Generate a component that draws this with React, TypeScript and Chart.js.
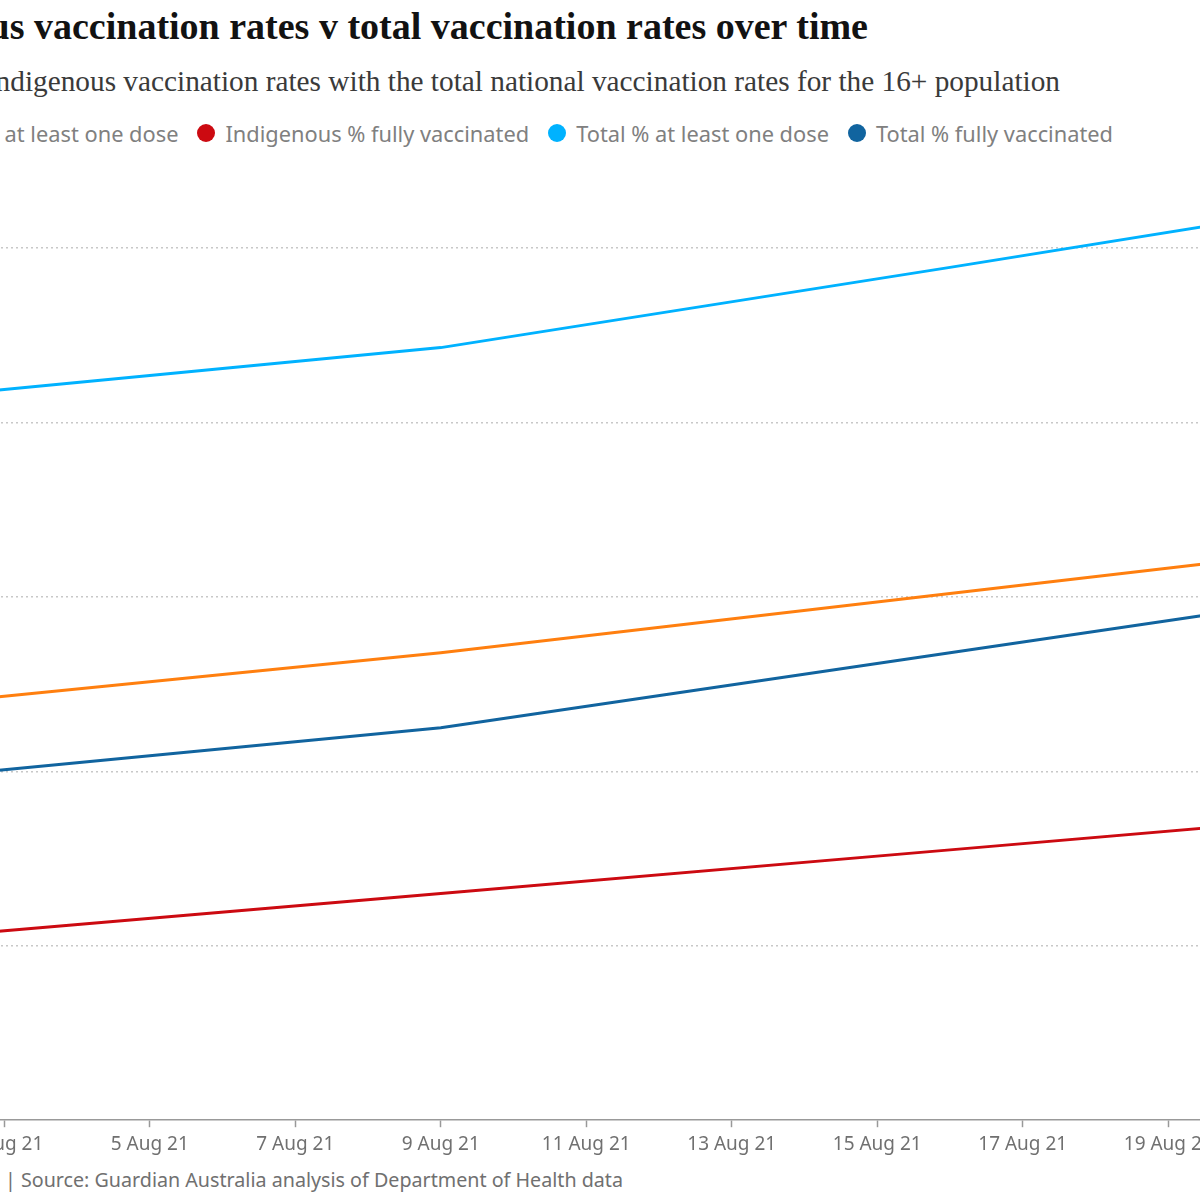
import React, { useEffect, useRef } from "react";
import Chart from "chart.js/auto";

// weekly readings, day of August 2021
const reportDays = [2, 9, 16, 23];
const indigenousFirstDose = [23.9, 26.8, 30.2, 33.6];
const indigenousFully = [10.5, 13.0, 15.5, 18.0];
const totalFirstDose = [41.5, 44.3, 48.9, 53.6];
const totalFully = [19.7, 22.5, 26.8, 31.1];

const seriesNames = [
  "Indigenous % at least one dose",
  "Indigenous % fully vaccinated",
  "Total % at least one dose",
  "Total % fully vaccinated"
];
const seriesColours = ["#ff7f0f", "#cc0a11", "#00b2ff", "#11649f"];

const xTickDays = [1, 3, 5, 7, 9, 11, 13, 15, 17, 19, 21, 23];
const yTickValues = [0, 10, 20, 30, 40, 50];

const title = "Indigenous vaccination rates v total vaccination rates over time";
const subtitle =
  "Comparing Indigenous vaccination rates with the total national vaccination rates for the 16+ population";
const footer = "Guardian graphic | Source: Guardian Australia analysis of Department of Health data";

const sans = "'Noto Sans', sans-serif";
const serif = "'Liberation Serif', serif";

const toPoints = (values: number[]) => values.map((v, i) => ({ x: reportDays[i], y: v }));

const App: React.FC = () => {
  const chartRef = useRef<HTMLCanvasElement>(null);
  const chartInstance = useRef<Chart>();

  useEffect(() => {
    if (!chartRef.current) return;
    const ctx = chartRef.current.getContext("2d");
    if (!ctx) return;
    if (chartInstance.current) chartInstance.current.destroy();

    const allSeries = [indigenousFirstDose, indigenousFully, totalFirstDose, totalFully];

    chartInstance.current = new Chart(ctx, {
      type: "line",
      data: {
        datasets: allSeries.map((values, i) => ({
          label: seriesNames[i],
          data: toPoints(values),
          borderColor: seriesColours[i],
          backgroundColor: seriesColours[i],
          borderWidth: 3,
          pointRadius: 0,
          tension: 0,
          fill: false
        }))
      },
      options: {
        animation: false,
        responsive: true,
        maintainAspectRatio: false,
        layout: { padding: 0 },
        plugins: {
          legend: { display: false },
          tooltip: { enabled: false }
        },
        scales: {
          x: {
            type: "linear",
            min: 0,
            max: 24,
            afterBuildTicks: (axis: any) => {
              axis.ticks = xTickDays.map((d) => ({ value: d }));
            },
            ticks: {
              autoSkip: false,
              maxRotation: 0,
              padding: 6,
              color: "#707070",
              font: { family: sans, size: 19 },
              callback: (v: any) => `${v} Aug 21`
            },
            grid: {
              drawOnChartArea: false,
              drawTicks: true,
              tickLength: 7,
              tickColor: "#999999",
              tickWidth: 1.5
            },
            border: { display: true, color: "#999999", width: 1.5 }
          },
          y: {
            type: "linear",
            min: 0,
            max: 55,
            afterBuildTicks: (axis: any) => {
              axis.ticks = yTickValues.map((v) => ({ value: v }));
            },
            ticks: { display: false },
            grid: {
              drawTicks: false,
              lineWidth: 1.5,
              color: (c: any) => (c.tick && c.tick.value === 0 ? "rgba(0,0,0,0)" : "#c8c8c8")
            },
            border: { display: false, dash: [2, 3] }
          }
        }
      }
    });

    return () => {
      if (chartInstance.current) {
        chartInstance.current.destroy();
        chartInstance.current = undefined;
      }
    };
  }, []);

  return (
    <div
      style={{
        position: "fixed",
        left: 0,
        top: 0,
        width: 1200,
        height: 1200,
        overflow: "hidden",
        background: "#ffffff"
      }}
    >
      <div
        style={{
          position: "absolute",
          right: 1200 - 868,
          top: 7,
          whiteSpace: "nowrap",
          fontFamily: serif,
          fontWeight: 700,
          fontSize: 38,
          lineHeight: "38px",
          color: "#121212"
        }}
      >
        {title}
      </div>
      <div
        style={{
          position: "absolute",
          right: 1200 - 1060,
          top: 67,
          whiteSpace: "nowrap",
          fontFamily: serif,
          fontSize: 29.3,
          lineHeight: "29px",
          color: "#3a3a3a"
        }}
      >
        {subtitle}
      </div>
      <div
        style={{
          position: "absolute",
          right: 1200 - 1113,
          top: 119,
          height: 28,
          display: "flex",
          alignItems: "center",
          gap: 19,
          whiteSpace: "nowrap",
          fontFamily: sans,
          fontSize: 21.8,
          color: "#808080"
        }}
      >
        {seriesNames.map((name, i) => (
          <div key={name} style={{ display: "flex", alignItems: "center", gap: 10 }}>
            <span
              style={{
                display: "inline-block",
                width: 18,
                height: 18,
                borderRadius: "50%",
                background: seriesColours[i]
              }}
            />
            <span>{name}</span>
          </div>
        ))}
      </div>
      <div
        style={{
          position: "absolute",
          left: -214,
          top: 161,
          width: 1746,
          height: 1001
        }}
      >
        <canvas ref={chartRef} style={{ width: "100%", height: "100%" }} />
      </div>
      <div
        style={{
          position: "absolute",
          right: 1200 - 623,
          top: 1168,
          whiteSpace: "nowrap",
          fontFamily: sans,
          fontSize: 19.7,
          lineHeight: "24px",
          color: "#707070"
        }}
      >
        {footer}
      </div>
    </div>
  );
};

export default App;
